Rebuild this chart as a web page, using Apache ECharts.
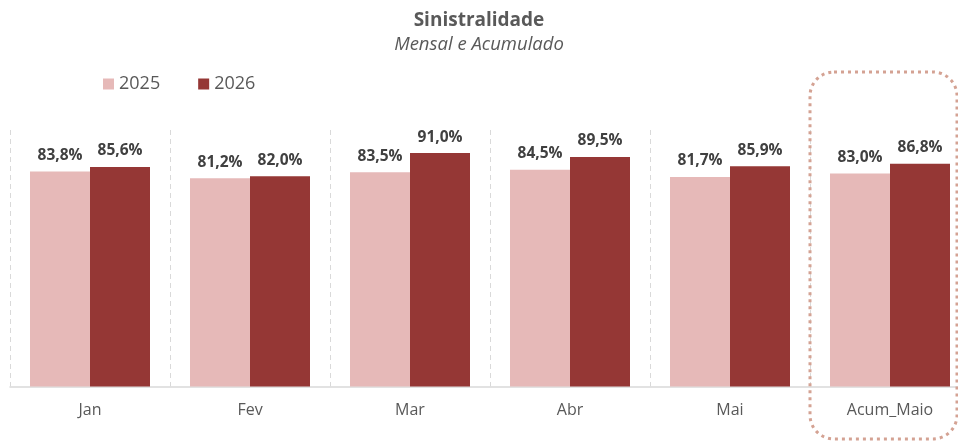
<!DOCTYPE html>
<html>
<head>
<meta charset="utf-8">
<title>Sinistralidade</title>
<script src="https://cdn.jsdelivr.net/npm/echarts@6/dist/echarts.min.js"></script>
<style>
  html, body { margin: 0; padding: 0; background: #fff; }
  #chart { width: 958px; height: 444px; }
</style>
</head>
<body>
<div id="chart"></div>
<script>
// data
const categories = ['Jan', 'Fev', 'Mar', 'Abr', 'Mai', 'Acum_Maio']
const seriesNames = ['2025', '2026']
const values2025 = [83.8, 81.2, 83.5, 84.5, 81.7, 83.0]
const values2026 = [85.6, 82.0, 91.0, 89.5, 85.9, 86.8]
const colors = ['#E6B9B8', '#953735']

const FONT = '"Open Sans", "Liberation Sans", sans-serif'

function pct(p) {
  return p.value.toFixed(1).replace('.', ',') + '%'
}

const barLabel = {
  show: true,
  position: 'top',
  distance: 8,
  formatter: pct,
  color: '#404040',
  fontFamily: FONT,
  fontWeight: 'bold',
  fontSize: 15.5
}

const chart = echarts.init(document.getElementById('chart'), null, { renderer: 'canvas' })

chart.setOption({
  animation: false,
  color: colors,
  title: {
    text: 'Sinistralidade',
    subtext: 'Mensal e Acumulado',
    left: 'center',
    top: 6,
    itemGap: 5,
    textStyle: {
      fontFamily: FONT,
      fontWeight: 'bold',
      fontSize: 19,
      color: '#595959'
    },
    subtextStyle: {
      fontFamily: FONT,
      fontStyle: 'italic',
      fontSize: 18.5,
      color: '#595959'
    }
  },
  legend: {
    left: 98,
    top: 70,
    icon: 'rect',
    itemWidth: 11,
    itemHeight: 11,
    itemGap: 38,
    textStyle: {
      fontFamily: FONT,
      fontSize: 18,
      color: '#595959'
    },
    data: seriesNames
  },
  grid: {
    left: 10,
    top: 130,
    width: 960,
    height: 256.5,
    containLabel: false,
    outerBoundsMode: 'none'
  },
  xAxis: {
    type: 'category',
    data: categories,
    axisLine: { lineStyle: { color: '#D9D9D9', width: 1.5 } },
    axisTick: { show: false },
    axisLabel: {
      margin: 16,
      fontFamily: FONT,
      fontSize: 16,
      color: '#595959'
    },
    splitLine: {
      show: true,
      interval: 0,
      lineStyle: { color: '#D9D9D9', type: [5, 4], width: 1 }
    }
  },
  yAxis: {
    type: 'value',
    min: 0,
    max: 100,
    show: false,
    splitLine: { show: false }
  },
  series: [
    {
      name: seriesNames[0],
      type: 'bar',
      data: values2025,
      barGap: '0%',
      barCategoryGap: '25%',
      label: barLabel
    },
    {
      name: seriesNames[1],
      type: 'bar',
      data: values2026,
      label: barLabel
    }
  ],
  // dotted highlight around the accumulated column
  graphic: [
    {
      type: 'rect',
      shape: { x: 810, y: 72, width: 147, height: 367, r: 24 },
      style: {
        fill: 'none',
        stroke: '#D4A293',
        lineWidth: 3,
        lineDash: [3, 4]
      },
      z: 10
    }
  ]
})
</script>
</body>
</html>
